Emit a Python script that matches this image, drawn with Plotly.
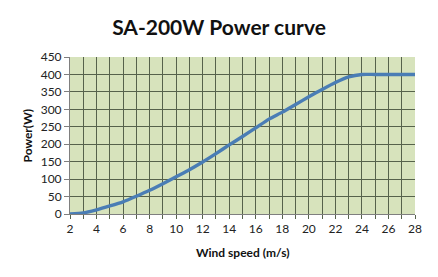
import plotly.graph_objects as go

wind_speed = [2, 3, 4, 5, 6, 7, 8, 9, 10, 11, 12, 13, 14, 15, 16, 17, 18, 19, 20, 21, 22, 23, 24, 25, 26, 27, 28]
power_w = [0, 3, 12, 23, 35, 51, 68, 87, 107, 127, 149, 173, 198, 222, 247, 272, 292, 314, 336, 357, 377, 393, 400, 400, 400, 400, 400]

x_ticks = list(range(2, 29, 2))
y_ticks = list(range(0, 451, 50))

title_text = "SA-200W Power curve"
x_title = "Wind speed (m/s)"
y_title = "Power(W)"

grid_color = "#56624b"
bg_color = "#d7e3bc"
line_color = "#4a7db5"
font_family = "Lato, 'Open Sans', sans-serif"

fig = go.Figure()
fig.add_trace(go.Scatter(
    x=wind_speed, y=power_w, mode="lines",
    line=dict(color=line_color, width=3.4, shape="spline", smoothing=0.6),
    hoverinfo="skip", showlegend=False,
))

fig.update_layout(
    width=438, height=277,
    margin=dict(l=70, r=23, t=57, b=63, autoexpand=False),
    paper_bgcolor="white",
    plot_bgcolor=bg_color,
    font=dict(family=font_family, color="#222"),
    title=dict(text="<b>" + title_text + "</b>", x=0.5, xanchor="center",
               y=1 - 27.5 / 277, yanchor="middle",
               font=dict(size=21, color="#111", family=font_family)),
    xaxis=dict(
        range=[2, 28], tickmode="array", tickvals=x_ticks,
        ticktext=[str(v) for v in x_ticks],
        showgrid=True, gridcolor=grid_color, gridwidth=1,
        ticks="outside", ticklen=4, tickcolor=grid_color,
        minor=dict(dtick=1, showgrid=True, gridcolor=grid_color, gridwidth=1,
                   ticks="outside", ticklen=4, tickcolor=grid_color),
        showline=True, linecolor="#7f7f7f", linewidth=1,
        zeroline=False, mirror=False,
        tickfont=dict(size=12, color="#222"),
        fixedrange=True,
    ),
    yaxis=dict(
        range=[0, 450], tickmode="array", tickvals=y_ticks,
        ticktext=[str(v) for v in y_ticks],
        showgrid=True, gridcolor=grid_color, gridwidth=1,
        ticks="outside", ticklen=5, tickcolor="#7f7f7f",
        showline=True, linecolor="#7f7f7f", linewidth=1,
        zeroline=False,
        tickfont=dict(size=12, color="#222"),
        fixedrange=True,
    ),
    annotations=[
        dict(text="<b>" + x_title + "</b>", xref="paper", yref="paper",
             x=0.5, y=-38 / 157, xanchor="center", yanchor="middle",
             showarrow=False, font=dict(size=12, color="#111")),
        dict(text="<b>" + y_title + "</b>", xref="paper", yref="paper",
             x=-43 / 345, y=0.5, xanchor="center", yanchor="middle", textangle=-90,
             showarrow=False, font=dict(size=12, color="#111")),
    ],
)

fig.write_html("out.html")
